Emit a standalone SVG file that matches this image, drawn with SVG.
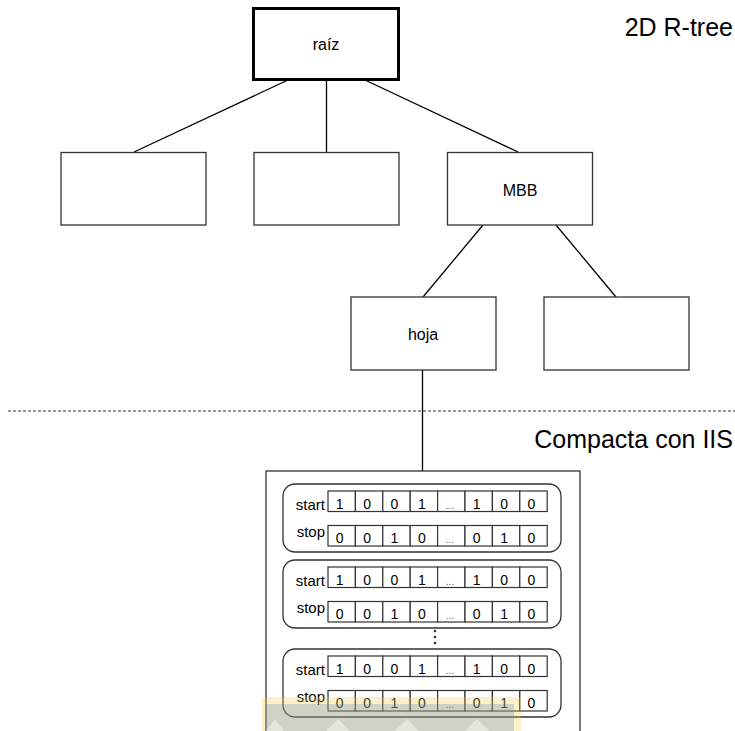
<svg xmlns="http://www.w3.org/2000/svg" width="735" height="731" viewBox="0 0 735 731">
  <style>
    text { font-family: "Liberation Sans", Arial, sans-serif; fill: #000; }
    .node { fill: #fff; stroke: #333; stroke-width: 1.3; }
    .root { fill: #fff; stroke: #000; stroke-width: 3; }
    .edge { stroke: #000; stroke-width: 1.3; fill: none; }
    .lbl { font-size: 16px; text-anchor: middle; }
    .title { font-size: 25px; text-anchor: end; }
    .grp { fill: #fff; stroke: #333; stroke-width: 1.3; }
    .cell { fill: #fff; stroke: #333; stroke-width: 1.2; }
    .bit { font-size: 14px; text-anchor: middle; }
    .dots { font-size: 10px; fill: #555; }
    .row { font-size: 15px; text-anchor: end; }
  </style>
  <defs>
    <!-- one start/stop record: two rows of eight bit cells -->
    <g id="record">
      <rect class="grp" x="283" y="0" width="278" height="68" rx="12"/>
      <g>
        <rect class="cell" x="328" y="7" width="27.4" height="20.5"/>
        <rect class="cell" x="355.4" y="7" width="27.4" height="20.5"/>
        <rect class="cell" x="382.8" y="7" width="27.4" height="20.5"/>
        <rect class="cell" x="410.2" y="7" width="27.4" height="20.5"/>
        <rect class="cell" x="437.6" y="7" width="27.4" height="20.5"/>
        <rect class="cell" x="465" y="7" width="27.4" height="20.5"/>
        <rect class="cell" x="492.4" y="7" width="27.4" height="20.5"/>
        <rect class="cell" x="519.8" y="7" width="27.4" height="20.5"/>
        <rect class="cell" x="328" y="41.5" width="27.4" height="20.5"/>
        <rect class="cell" x="355.4" y="41.5" width="27.4" height="20.5"/>
        <rect class="cell" x="382.8" y="41.5" width="27.4" height="20.5"/>
        <rect class="cell" x="410.2" y="41.5" width="27.4" height="20.5"/>
        <rect class="cell" x="437.6" y="41.5" width="27.4" height="20.5"/>
        <rect class="cell" x="465" y="41.5" width="27.4" height="20.5"/>
        <rect class="cell" x="492.4" y="41.5" width="27.4" height="20.5"/>
        <rect class="cell" x="519.8" y="41.5" width="27.4" height="20.5"/>
      </g>
      <text class="row" x="325" y="25.5">start</text>
      <text class="row" x="325" y="52.5">stop</text>
      <g class="bit">
        <text x="339.7" y="24.5">1</text>
        <text x="367.1" y="24.5">0</text>
        <text x="394.5" y="24.5">0</text>
        <text x="421.9" y="24.5">1</text>
        <text class="dots" x="450" y="24.5">...</text>
        <text x="476.7" y="24.5">1</text>
        <text x="504.1" y="24.5">0</text>
        <text x="531.5" y="24.5">0</text>
        <text x="339.7" y="59">0</text>
        <text x="367.1" y="59">0</text>
        <text x="394.5" y="59">1</text>
        <text x="421.9" y="59">0</text>
        <text class="dots" x="450" y="59">...</text>
        <text x="476.7" y="59">0</text>
        <text x="504.1" y="59">1</text>
        <text x="531.5" y="59">0</text>
      </g>
    </g>
  </defs>

  <rect width="735" height="731" fill="#fff"/>

  <text class="title" x="733" y="36">2D R-tree</text>
  <text class="title" x="733" y="448">Compacta con IIS</text>

  <!-- separator between the tree and its compact form -->
  <line x1="8" y1="411" x2="735" y2="411" stroke="#333" stroke-width="1.2" stroke-dasharray="3 2"/>

  <g id="connectors">
    <line class="edge" x1="288" y1="80" x2="134" y2="152"/>
    <line class="edge" x1="326.5" y1="80" x2="326.5" y2="152"/>
    <line class="edge" x1="365" y1="80" x2="518" y2="152"/>
    <line class="edge" x1="483" y1="225" x2="423" y2="297"/>
    <line class="edge" x1="556" y1="225" x2="616" y2="297"/>
    <line class="edge" x1="422.5" y1="370" x2="422.5" y2="471"/>
  </g>

  <g id="root">
    <rect class="root" x="253.5" y="8.5" width="145" height="71"/>
    <text class="lbl" x="326" y="50">raíz</text>
  </g>
  <g id="child-1">
    <rect class="node" x="61" y="152.5" width="145" height="72.5"/>
  </g>
  <g id="child-2">
    <rect class="node" x="254" y="152.5" width="145" height="72.5"/>
  </g>
  <g id="mbb">
    <rect class="node" x="447.5" y="152.5" width="145" height="72.5"/>
    <text class="lbl" x="520" y="195.5">MBB</text>
  </g>
  <g id="hoja">
    <rect class="node" x="351" y="297" width="145" height="73"/>
    <text class="lbl" x="423" y="340">hoja</text>
  </g>
  <g id="leaf-2">
    <rect class="node" x="544" y="297" width="145" height="73"/>
  </g>

  <g id="iis">
    <rect class="node" x="266" y="471" width="314" height="280"/>
    <use href="#record" y="484"/>
    <use href="#record" y="560"/>
    <g fill="#333">
      <circle cx="435" cy="631" r="1.3"/>
      <circle cx="435" cy="637" r="1.3"/>
      <circle cx="435" cy="643" r="1.3"/>
    </g>
    <use href="#record" y="649"/>
  </g>

  <!-- faint logo band along the bottom edge -->
  <g id="watermark">
    <rect x="262" y="697" width="259" height="34" fill="#f5c842" opacity="0.28"/>
    <rect x="265" y="704" width="249" height="27" fill="#5b86b8" opacity="0.28"/>
    <g fill="#fff" opacity="0.45">
      <polygon points="266,731 275,719 284,731"/>
      <polygon points="326,731 338,719 350,731"/>
      <polygon points="395,731 407,719 419,731"/>
      <polygon points="465,731 477,719 489,731"/>
    </g>
  </g>
</svg>
